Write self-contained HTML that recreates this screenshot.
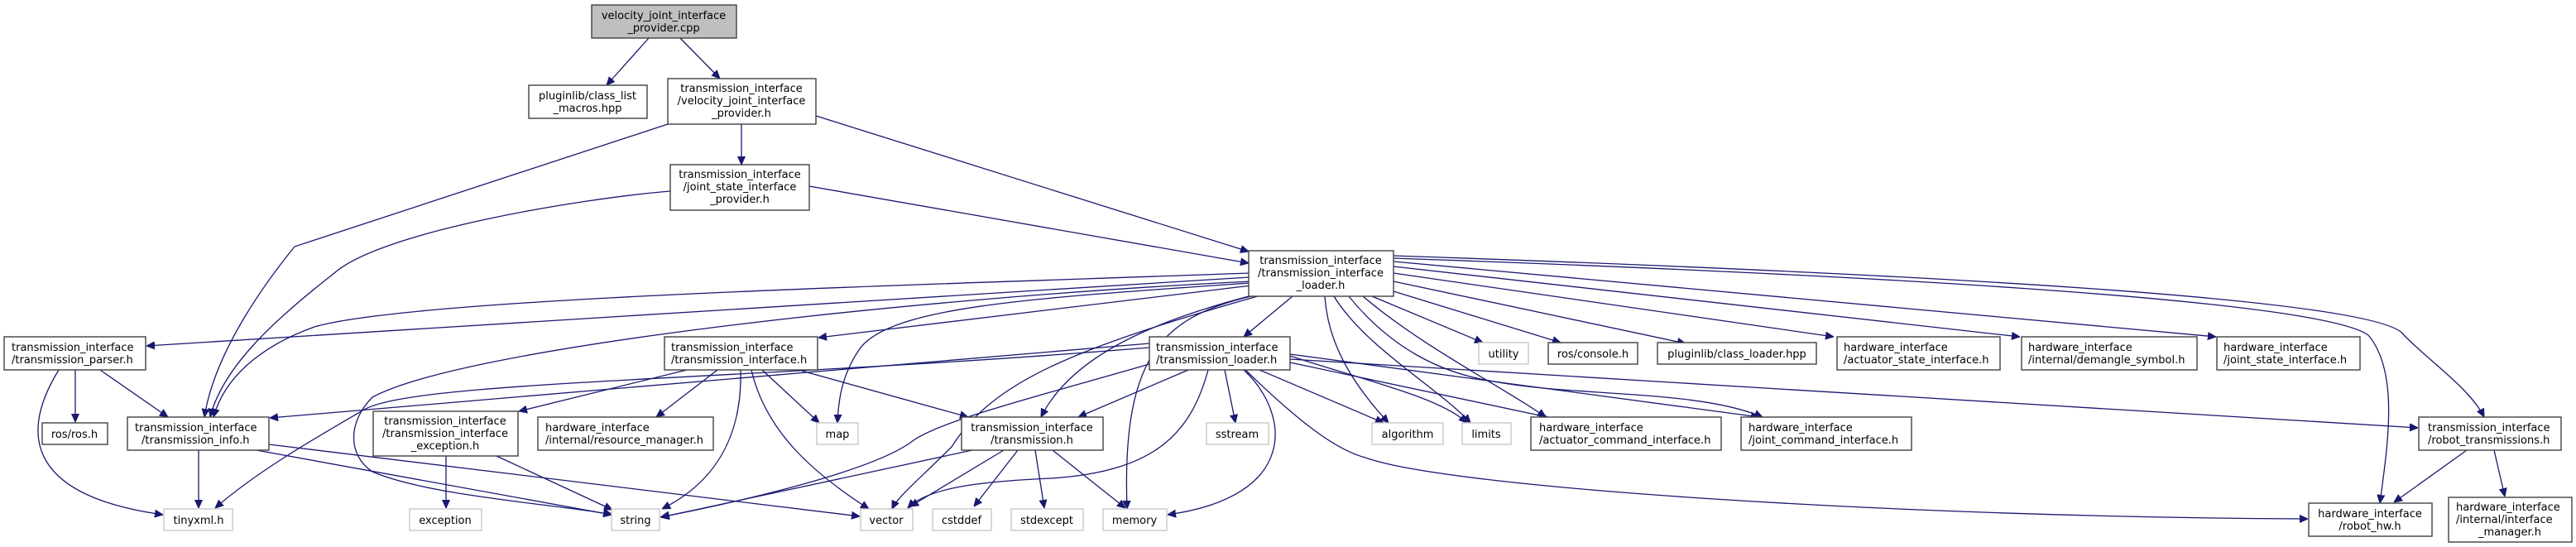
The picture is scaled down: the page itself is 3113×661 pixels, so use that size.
<!DOCTYPE html>
<html><head><meta charset="utf-8"><style>
html,body{margin:0;padding:0;background:#fff;}
svg{display:block;}
text{font-family:"DejaVu Sans","Liberation Sans",sans-serif;font-size:13px;fill:#000;}
.n{fill:#fff;stroke:#404040;stroke-width:1.4;}
.g{fill:#fff;stroke:#c8c8c8;stroke-width:1.4;}
.e{fill:none;stroke:#191970;stroke-width:1.3;}
</style></head><body>
<svg width="3113" height="661" viewBox="0 0 3113 661" xmlns="http://www.w3.org/2000/svg">
<defs><marker id="a" viewBox="0 0 10 10" refX="10" refY="5" markerWidth="10" markerHeight="10" markerUnits="userSpaceOnUse" orient="auto"><path d="M0,0.5 L10,5 L0,9.5 z" fill="#191970" stroke="#191970"/></marker></defs>
<g class="e" marker-end="url(#a)">
<path d="M784,46 L733,103"/>
<path d="M822,46 L870,95"/>
<path d="M896,150 L896,199"/>
<path d="M807,150 L356,298 C330,330 260,420 247,504"/>
<path d="M810,231 C700,240 460,280 404,330 C340,380 270,440 254,504"/>
<path d="M986,140 L1509,304"/>
<path d="M978,225 L1509,318"/>
<path d="M1510,335 L177,418"/>
<path d="M1510,330 C1100,345 500,360 380,395 C310,420 270,460 258,504"/>
<path d="M1512,340 C1100,360 560,420 450,480 C420,510 420,550 450,570 C520,600 680,610 740,622"/>
<path d="M1512,345 L989,408"/>
<path d="M1510,342 C1250,360 1080,370 1040,420 C1015,455 1013,490 1012,511"/>
<path d="M1562,358 L1503,407"/>
<path d="M1540,350 C1420,380 1300,420 1258,504"/>
<path d="M1530,355 C1300,420 1200,460 1150,540 C1110,580 1085,600 1078,615"/>
<path d="M1525,355 C1410,380 1355,420 1362,615"/>
<path d="M1601,358 C1605,420 1640,470 1678,511"/>
<path d="M1612,358 C1650,420 1740,470 1777,511"/>
<path d="M1658,358 L1792,414"/>
<path d="M1684,352 L1886,414"/>
<path d="M1647,358 C1720,420 1820,470 1868,504"/>
<path d="M1630,358 C1680,420 1740,450 1800,460 C1900,480 2050,470 2130,504"/>
<path d="M1684,340 L2037,415"/>
<path d="M1684,330 L2216,407"/>
<path d="M1684,322 L2441,407"/>
<path d="M1684,316 L2678,407"/>
<path d="M1684,312 C2200,330 2800,360 2862,405 C2900,450 2885,540 2876,608"/>
<path d="M1684,309 C2300,330 2880,360 2905,405 C2940,440 2985,470 3002,504"/>
<path d="M1436,447 L1303,504"/>
<path d="M1460,447 C1440,520 1400,570 1270,578 C1180,582 1120,590 1097,614"/>
<path d="M1389,440 C1250,480 1130,510 1100,535 C1050,570 900,605 798,625"/>
<path d="M1480,447 L1493,511"/>
<path d="M1503,447 C1560,500 1570,600 1411,622"/>
<path d="M1522,447 L1672,511"/>
<path d="M1559,430 C1650,460 1740,480 1773,511"/>
<path d="M1559,438 L1870,504"/>
<path d="M1559,428 L2126,504"/>
<path d="M1559,434 L2922,517"/>
<path d="M1505,447 C1580,520 1620,545 1650,553 C1750,590 2300,625 2789,627"/>
<path d="M1389,415 L326,505"/>
<path d="M1389,420 C900,460 500,460 440,495 C380,530 310,570 260,614"/>
<path d="M830,447 L627,497"/>
<path d="M867,447 L793,504"/>
<path d="M895,447 C897,520 870,580 800,615"/>
<path d="M921,447 L990,511"/>
<path d="M908,447 C925,520 980,570 1050,615"/>
<path d="M965,447 L1170,504"/>
<path d="M240,544 L240,614"/>
<path d="M310,544 L739,622"/>
<path d="M325,537 L1039,624"/>
<path d="M91,447 L91,510"/>
<path d="M121,447 L203,504"/>
<path d="M71,447 C20,530 40,600 197,622"/>
<path d="M539,551 L539,614"/>
<path d="M600,551 L740,616"/>
<path d="M1213,544 L1100,612"/>
<path d="M1230,544 L1177,612"/>
<path d="M1251,544 L1262,614"/>
<path d="M1272,544 L1360,614"/>
<path d="M1175,544 L799,625"/>
<path d="M2981,544 L2893,607"/>
<path d="M3014,544 L3027,600"/>
</g>
<rect x="715" y="6" width="175" height="40" fill="#bfbfbf" stroke="#404040" stroke-width="1.4"/>
<text x="802" y="23" text-anchor="middle">velocity_joint_interface</text><text x="802" y="38" text-anchor="middle">_provider.cpp</text>
<rect class="n" x="639" y="103" width="143" height="40"/>
<text x="710" y="120" text-anchor="middle">pluginlib/class_list</text><text x="710" y="135" text-anchor="middle">_macros.hpp</text>
<rect class="n" x="807" y="95" width="179" height="55"/>
<text x="896" y="111" text-anchor="middle">transmission_interface</text><text x="896" y="126" text-anchor="middle">/velocity_joint_interface</text><text x="896" y="141" text-anchor="middle">_provider.h</text>
<rect class="n" x="810" y="199" width="168" height="55"/>
<text x="894" y="215" text-anchor="middle">transmission_interface</text><text x="894" y="230" text-anchor="middle">/joint_state_interface</text><text x="894" y="245" text-anchor="middle">_provider.h</text>
<rect class="n" x="1509" y="303" width="175" height="55"/>
<text x="1596" y="319" text-anchor="middle">transmission_interface</text><text x="1596" y="334" text-anchor="middle">/transmission_interface</text><text x="1596" y="349" text-anchor="middle">_loader.h</text>
<rect class="n" x="5" y="407" width="171" height="40"/>
<text x="14" y="424">transmission_interface</text><text x="14" y="439">/transmission_parser.h</text>
<rect class="n" x="803" y="407" width="185" height="40"/>
<text x="811" y="424">transmission_interface</text><text x="811" y="439">/transmission_interface.h</text>
<rect class="n" x="1389" y="407" width="170" height="40"/>
<text x="1397" y="424">transmission_interface</text><text x="1397" y="439">/transmission_loader.h</text>
<rect class="g" x="1787" y="414" width="60" height="26"/><text x="1817" y="432" text-anchor="middle">utility</text>
<rect class="n" x="1871" y="414" width="108" height="26"/><text x="1925" y="432" text-anchor="middle">ros/console.h</text>
<rect class="n" x="2003" y="414" width="192" height="26"/><text x="2099" y="432" text-anchor="middle">pluginlib/class_loader.hpp</text>
<rect class="n" x="2220" y="407" width="197" height="40"/>
<text x="2228" y="424">hardware_interface</text><text x="2228" y="439">/actuator_state_interface.h</text>
<rect class="n" x="2443" y="407" width="212" height="40"/>
<text x="2451" y="424">hardware_interface</text><text x="2451" y="439">/internal/demangle_symbol.h</text>
<rect class="n" x="2679" y="407" width="173" height="40"/>
<text x="2687" y="424">hardware_interface</text><text x="2687" y="439">/joint_state_interface.h</text>
<rect class="n" x="51" y="511" width="79" height="26"/><text x="90" y="529" text-anchor="middle">ros/ros.h</text>
<rect class="n" x="154" y="504" width="171" height="40"/>
<text x="163" y="521">transmission_interface</text><text x="171" y="536">/transmission_info.h</text>
<rect class="n" x="451" y="497" width="175" height="54"/>
<text x="538" y="513" text-anchor="middle">transmission_interface</text><text x="538" y="528" text-anchor="middle">/transmission_interface</text><text x="538" y="543" text-anchor="middle">_exception.h</text>
<rect class="n" x="650" y="504" width="212" height="40"/>
<text x="659" y="521">hardware_interface</text><text x="659" y="536">/internal/resource_manager.h</text>
<rect class="g" x="987" y="511" width="50" height="26"/><text x="1012" y="529" text-anchor="middle">map</text>
<rect class="n" x="1162" y="504" width="171" height="40"/>
<text x="1247" y="521" text-anchor="middle">transmission_interface</text><text x="1247" y="536" text-anchor="middle">/transmission.h</text>
<rect class="g" x="1458" y="511" width="75" height="26"/><text x="1495" y="529" text-anchor="middle">sstream</text>
<rect class="g" x="1658" y="511" width="86" height="26"/><text x="1701" y="529" text-anchor="middle">algorithm</text>
<rect class="g" x="1767" y="511" width="59" height="26"/><text x="1796" y="529" text-anchor="middle">limits</text>
<rect class="n" x="1850" y="504" width="230" height="40"/>
<text x="1860" y="521">hardware_interface</text><text x="1860" y="536">/actuator_command_interface.h</text>
<rect class="n" x="2104" y="504" width="206" height="40"/>
<text x="2113" y="521">hardware_interface</text><text x="2113" y="536">/joint_command_interface.h</text>
<rect class="n" x="2923" y="504" width="172" height="40"/>
<text x="2934" y="521">transmission_interface</text><text x="2934" y="536">/robot_transmissions.h</text>
<rect class="g" x="198" y="615" width="83" height="26"/><text x="240" y="633" text-anchor="middle">tinyxml.h</text>
<rect class="g" x="495" y="615" width="87" height="26"/><text x="538" y="633" text-anchor="middle">exception</text>
<rect class="g" x="739" y="615" width="58" height="26"/><text x="768" y="633" text-anchor="middle">string</text>
<rect class="g" x="1040" y="615" width="63" height="26"/><text x="1071" y="633" text-anchor="middle">vector</text>
<rect class="g" x="1127" y="615" width="71" height="26"/><text x="1162" y="633" text-anchor="middle">cstddef</text>
<rect class="g" x="1222" y="615" width="87" height="26"/><text x="1265" y="633" text-anchor="middle">stdexcept</text>
<rect class="g" x="1333" y="615" width="77" height="26"/><text x="1371" y="633" text-anchor="middle">memory</text>
<rect class="n" x="2790" y="608" width="149" height="40"/>
<text x="2864" y="625" text-anchor="middle">hardware_interface</text><text x="2864" y="640" text-anchor="middle">/robot_hw.h</text>
<rect class="n" x="2959" y="601" width="149" height="54"/>
<text x="2968" y="617">hardware_interface</text><text x="2968" y="632">/internal/interface</text><text x="3033" y="647" text-anchor="middle">_manager.h</text>
</svg>
</body></html>
